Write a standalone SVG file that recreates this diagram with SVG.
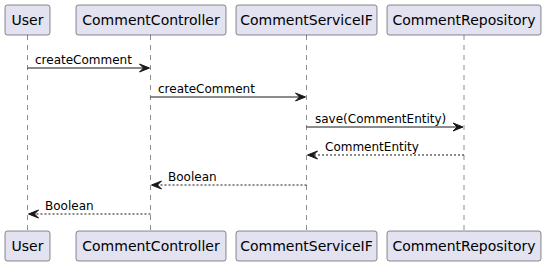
<svg xmlns="http://www.w3.org/2000/svg" width="546" height="266" viewBox="0 0 546 266">
  <style>
    .box { fill: #E2E2F0; stroke: #181818; stroke-width: 0.5; }
    .name { font-family: "DejaVu Sans", Verdana, sans-serif; font-size: 14px; fill: #000; }
    .life { stroke: #181818; stroke-width: 0.5; stroke-dasharray: 5,5; fill: none; }
    .msg { stroke: #181818; stroke-width: 1; fill: none; }
    .ret { stroke: #181818; stroke-width: 1; stroke-dasharray: 2,2; fill: none; }
    .head { fill: #181818; stroke: #181818; stroke-width: 1; }
    .label { font-family: "DejaVu Sans", Verdana, sans-serif; font-size: 12px; fill: #000; }
  </style>
  <defs>
    <!-- open "V" arrowhead with a notch, pointing along +x / -x -->
    <polygon id="headR" class="head" points="0,0 -10,-4 -6,0 -10,4"/>
    <polygon id="headL" class="head" points="0,0 10,-4 6,0 10,4"/>
  </defs>

  <!-- lifelines -->
  <g id="lifelines">
    <line class="life" x1="27.5" y1="35" x2="27.5" y2="231"/>
    <line class="life" x1="150.5" y1="35" x2="150.5" y2="231"/>
    <line class="life" x1="306.5" y1="35" x2="306.5" y2="231"/>
    <line class="life" x1="464" y1="35" x2="464" y2="231"/>
  </g>

  <!-- participants, head and foot -->
  <g id="User">
    <rect class="box" x="5" y="5" width="45" height="30" rx="2.5"/>
    <text class="name" x="27.5" y="25" text-anchor="middle">User</text>
    <rect class="box" x="5" y="231" width="45" height="30" rx="2.5"/>
    <text class="name" x="27.5" y="251" text-anchor="middle">User</text>
  </g>
  <g id="CommentController">
    <rect class="box" x="76" y="5" width="150" height="30" rx="2.5"/>
    <text class="name" x="151" y="25" text-anchor="middle">CommentController</text>
    <rect class="box" x="76" y="231" width="150" height="30" rx="2.5"/>
    <text class="name" x="151" y="251" text-anchor="middle">CommentController</text>
  </g>
  <g id="CommentServiceIF">
    <rect class="box" x="236" y="5" width="141" height="30" rx="2.5"/>
    <text class="name" x="306.5" y="25" text-anchor="middle">CommentServiceIF</text>
    <rect class="box" x="236" y="231" width="141" height="30" rx="2.5"/>
    <text class="name" x="306.5" y="251" text-anchor="middle">CommentServiceIF</text>
  </g>
  <g id="CommentRepository">
    <rect class="box" x="387" y="5" width="154" height="30" rx="2.5"/>
    <text class="name" x="464" y="25" text-anchor="middle">CommentRepository</text>
    <rect class="box" x="387" y="231" width="154" height="30" rx="2.5"/>
    <text class="name" x="464" y="251" text-anchor="middle">CommentRepository</text>
  </g>

  <!-- messages -->
  <g id="connectors">
    <line class="msg" x1="27.5" y1="68" x2="148.5" y2="68"/>
    <use href="#headR" x="149.5" y="68"/>
    <text class="label" x="35" y="64">createComment</text>

    <line class="msg" x1="150.5" y1="97" x2="304.5" y2="97"/>
    <use href="#headR" x="305.5" y="97"/>
    <text class="label" x="158" y="93">createComment</text>

    <line class="msg" x1="306.5" y1="127" x2="462" y2="127"/>
    <use href="#headR" x="463" y="127"/>
    <text class="label" x="315" y="123">save(CommentEntity)</text>

    <line class="ret" x1="464" y1="155" x2="308.5" y2="155"/>
    <use href="#headL" x="307.5" y="155"/>
    <text class="label" x="325" y="151">CommentEntity</text>

    <line class="ret" x1="306.5" y1="185" x2="152.5" y2="185"/>
    <use href="#headL" x="151.5" y="185"/>
    <text class="label" x="168" y="181">Boolean</text>

    <line class="ret" x1="150.5" y1="214" x2="29.5" y2="214"/>
    <use href="#headL" x="28.5" y="214"/>
    <text class="label" x="45" y="210">Boolean</text>
  </g>
</svg>
